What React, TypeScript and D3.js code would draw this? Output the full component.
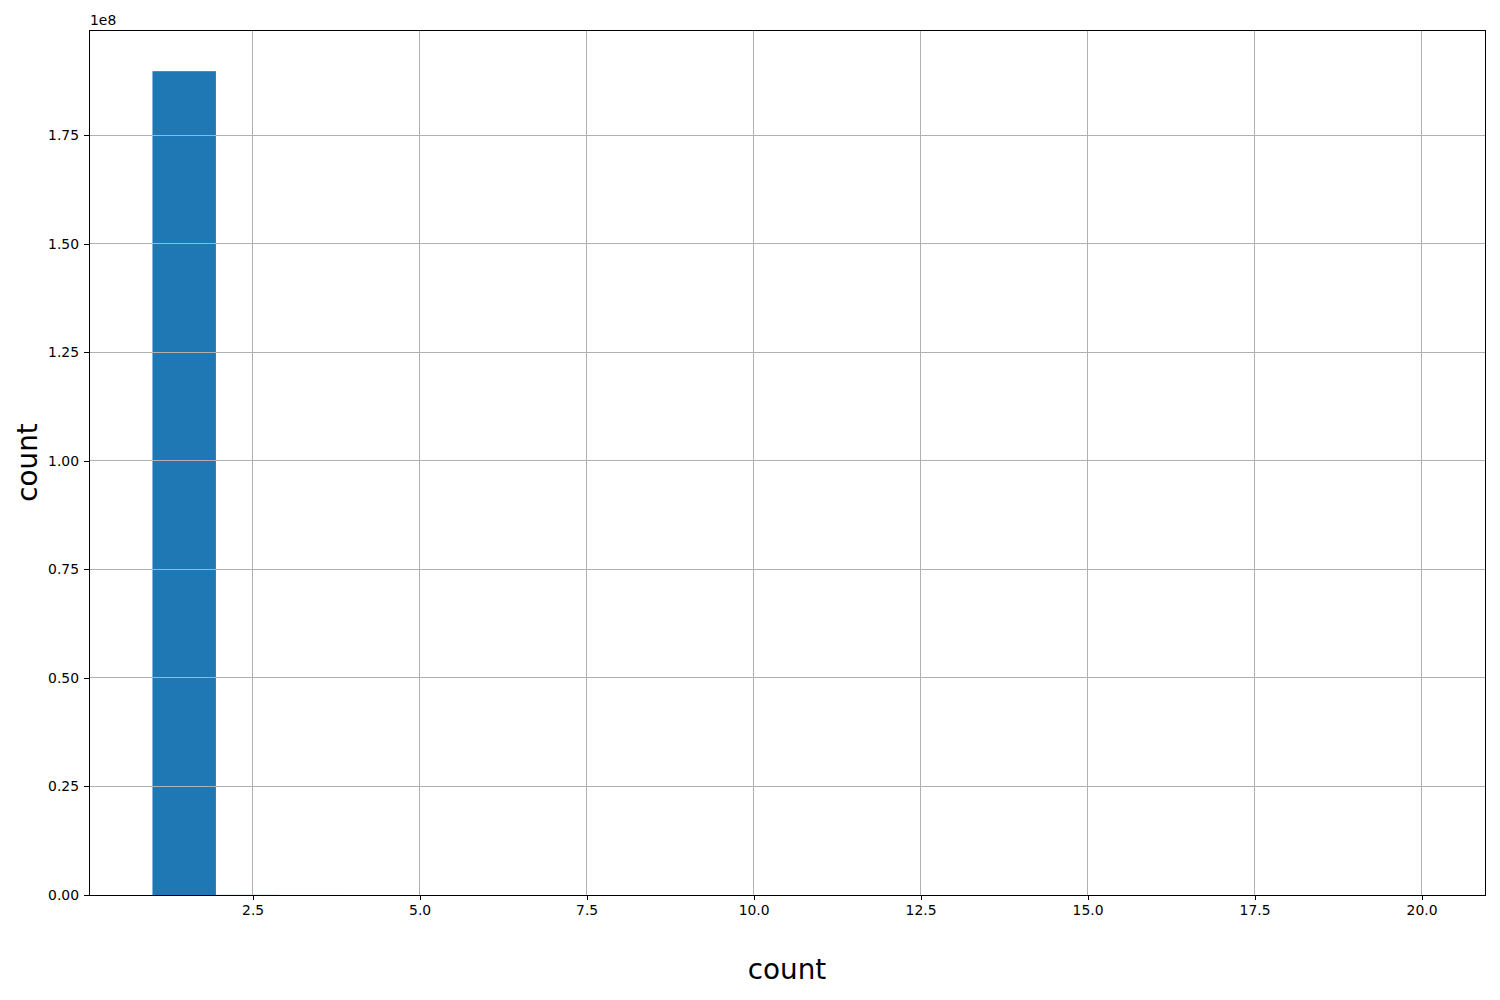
import * as d3 from "d3";
import { useEffect, useRef } from "react";

// histogram bins (left edges, width 0.95) and counts
const binEdges = [1, 1.95, 2.9, 3.85, 4.8, 5.75, 6.7, 7.65, 8.6, 9.55, 10.5, 11.45, 12.4, 13.35, 14.3, 15.25, 16.2, 17.15, 18.1, 19.05, 20];
const binCounts = [189700000, 30000, 4000, 1200, 500, 250, 150, 90, 60, 40, 30, 20, 15, 10, 8, 6, 5, 4, 3, 2];
const xTicks = [2.5, 5.0, 7.5, 10.0, 12.5, 15.0, 17.5, 20.0];
const yTicks = [0, 0.25e8, 0.5e8, 0.75e8, 1.0e8, 1.25e8, 1.5e8, 1.75e8];

export default function App() {
  const svgRef = useRef<SVGSVGElement | null>(null);

  useEffect(() => {
    document.body.style.margin = "0";
    if (!svgRef.current) return;
    const width = 1500;
    const height = 1000;
    const m = { left: 89, right: 15, top: 30, bottom: 105 };
    const font = "DejaVu Sans, sans-serif";

    const svg = d3.select(svgRef.current);
    svg.selectAll("*").remove();
    svg.append("rect").attr("width", width).attr("height", height).attr("fill", "#fff");

    const lo = binEdges[0];
    const hi = binEdges[binEdges.length - 1];
    const pad = (hi - lo) * 0.05;
    const x = d3.scaleLinear().domain([lo - pad, hi + pad]).range([m.left, width - m.right]);
    const yMax = (d3.max(binCounts) ?? 0) * 1.05;
    const y = d3.scaleLinear().domain([0, yMax]).range([height - m.bottom, m.top]);

    // bars
    svg
      .append("g")
      .selectAll("rect")
      .data(binCounts)
      .enter()
      .append("rect")
      .attr("x", (_, i) => x(binEdges[i]))
      .attr("width", (_, i) => x(binEdges[i + 1]) - x(binEdges[i]))
      .attr("y", (d) => y(d))
      .attr("height", (d) => y(0) - y(d))
      .attr("fill", "#1f77b4");

    // grid on top
    const grid = svg.append("g").attr("stroke", "#b0b0b0").attr("stroke-width", 1).attr("shape-rendering", "crispEdges");
    xTicks.forEach((t) => {
      grid.append("line").attr("x1", x(t)).attr("x2", x(t)).attr("y1", m.top).attr("y2", height - m.bottom);
    });
    yTicks.forEach((t) => {
      grid.append("line").attr("x1", m.left).attr("x2", width - m.right).attr("y1", y(t)).attr("y2", y(t));
    });

    // axes
    const xAxis = svg
      .append("g")
      .attr("transform", `translate(0,${height - m.bottom})`)
      .call(d3.axisBottom(x).tickValues(xTicks).tickFormat(d3.format(".1f")).tickSize(5).tickPadding(5));
    const yAxis = svg
      .append("g")
      .attr("transform", `translate(${m.left},0)`)
      .call(d3.axisLeft(y).tickValues(yTicks).tickFormat((d) => d3.format(".2f")((d as number) / 1e8)).tickSize(5).tickPadding(5));
    [xAxis, yAxis].forEach((a) => {
      a.select(".domain").remove();
      a.selectAll("text").attr("font-family", font).attr("font-size", 13.9).attr("fill", "#000");
      a.selectAll("line").attr("stroke", "#000").attr("stroke-width", 1).attr("shape-rendering", "crispEdges");
    });

    // frame
    svg
      .append("rect")
      .attr("x", m.left)
      .attr("y", m.top)
      .attr("width", width - m.left - m.right)
      .attr("height", height - m.top - m.bottom)
      .attr("fill", "none")
      .attr("stroke", "#000")
      .attr("stroke-width", 1)
      .attr("shape-rendering", "crispEdges");

    svg
      .append("text")
      .attr("x", m.left + 1)
      .attr("y", m.top - 5)
      .attr("font-family", font)
      .attr("font-size", 13.9)
      .text("1e8");

    svg
      .append("text")
      .attr("x", (m.left + width - m.right) / 2)
      .attr("y", 979)
      .attr("text-anchor", "middle")
      .attr("font-family", font)
      .attr("font-size", 27.8)
      .text("count");

    svg
      .append("text")
      .attr("transform", `translate(37,${(m.top + height - m.bottom) / 2}) rotate(-90)`)
      .attr("text-anchor", "middle")
      .attr("font-family", font)
      .attr("font-size", 27.8)
      .text("count");
  }, []);

  return <svg ref={svgRef} width={1500} height={1000} style={{ display: "block" }} />;
}
